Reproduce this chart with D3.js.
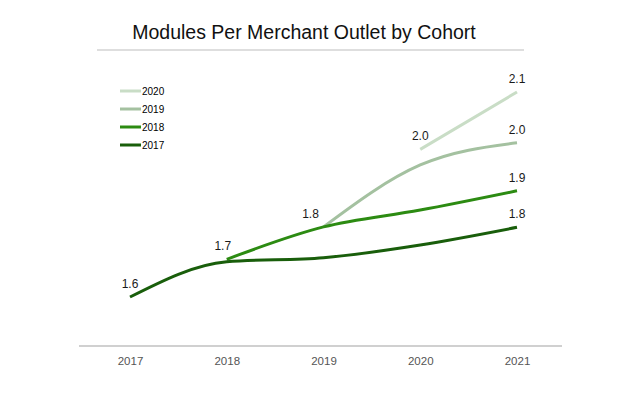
<!DOCTYPE html>
<html>
  <head>
    <meta charset="utf-8" />
    <title>Modules Per Merchant Outlet by Cohort</title>
    <style>
      body {
        margin: 0;
        background: #fff;
      }
      svg {
        display: block;
        font-family: "Liberation Sans", Arial, sans-serif;
      }
    </style>
  </head>
  <body>
    <svg id="chart"></svg>
    <script src="https://cdn.jsdelivr.net/npm/d3@7"></script>
    <script>
      // data
      var years = [2017, 2018, 2019, 2020, 2021];
      var cohorts = ["2017", "2018", "2019", "2020"];
      var cohort2017 = [1.6, 1.686, 1.696, 1.727, 1.77];
      var cohort2018 = [null, 1.692, 1.771, 1.812, 1.859];
      var cohort2019 = [null, null, 1.771, 1.922, 1.976];
      var cohort2020 = [null, null, null, 1.96, 2.1];

      var width = 640;
      var height = 393;

      var colors = {
        "2017": "#195e0b",
        "2018": "#2c8b12",
        "2019": "#a4c1a0",
        "2020": "#c9ddc6"
      };

      var svg = d3.select("#chart").attr("width", width).attr("height", height);

      var x = d3.scaleLinear().domain([2017, 2021]).range([130, 517]);
      var y = d3.scaleLinear().domain([1.6, 2.1]).range([297, 92]);

      // title + rule
      svg
        .append("text")
        .attr("x", 304)
        .attr("y", 39)
        .attr("text-anchor", "middle")
        .attr("font-size", 19.5)
        .attr("fill", "#111")
        .text("Modules Per Merchant Outlet by Cohort");

      svg
        .append("line")
        .attr("x1", 97)
        .attr("x2", 524)
        .attr("y1", 50)
        .attr("y2", 50)
        .attr("stroke", "#bdbdbd")
        .attr("stroke-width", 1);

      // x axis
      var axis = svg
        .append("g")
        .attr("transform", "translate(0,346)")
        .call(
          d3
            .axisBottom(x)
            .tickValues(years)
            .tickFormat(d3.format("d"))
            .tickSize(0)
            .tickPadding(11)
        );
      axis
        .select(".domain")
        .attr("d", "M" + (x.range()[0] - 51) + ",0H" + (x.range()[1] + 45))
        .attr("stroke", "#d0d0d0")
        .attr("stroke-width", 2);
      axis
        .selectAll("text")
        .attr("font-family", "Liberation Sans, Arial, sans-serif")
        .attr("font-size", 11.5)
        .attr("fill", "#555");

      var series = [
        { name: "2017", values: cohort2017 },
        { name: "2018", values: cohort2018 },
        { name: "2019", values: cohort2019 },
        { name: "2020", values: cohort2020 }
      ];
      series.forEach(function (s) {
        s.points = years
          .map(function (yr, i) {
            return { year: yr, value: s.values[i] };
          })
          .filter(function (d) {
            return d.value != null;
          });
      });

      var line = d3
        .line()
        .x(function (d) {
          return x(d.year);
        })
        .y(function (d) {
          return y(d.value);
        })
        .curve(d3.curveMonotoneX);

      // draw light cohorts first so the dark ones sit on top
      svg
        .append("g")
        .selectAll("path")
        .data(series.slice().reverse())
        .join("path")
        .attr("d", function (s) {
          return line(s.points);
        })
        .attr("fill", "none")
        .attr("stroke", function (s) {
          return colors[s.name];
        })
        .attr("stroke-width", 3);

      // value labels on first and last point of each cohort
      var startShift = { "2017": 0, "2018": -4, "2019": -13, "2020": 0 };
      var labels = [];
      series.forEach(function (s) {
        var first = s.points[0];
        var last = s.points[s.points.length - 1];
        labels.push({ d: first, dx: startShift[s.name] });
        labels.push({ d: last, dx: 0 });
      });

      svg
        .append("g")
        .selectAll("text")
        .data(labels)
        .join("text")
        .attr("x", function (l) {
          return x(l.d.year) + l.dx;
        })
        .attr("y", function (l) {
          return y(l.d.value) - 9;
        })
        .attr("text-anchor", "middle")
        .attr("font-size", 12)
        .attr("fill", "#1a1a1a")
        .text(function (l) {
          return l.d.value.toFixed(1);
        });

      // legend
      var legend = svg
        .append("g")
        .selectAll("g")
        .data(cohorts.slice().reverse())
        .join("g")
        .attr("transform", function (d, i) {
          return "translate(120," + (91 + i * 18) + ")";
        });
      legend
        .append("line")
        .attr("x1", 0)
        .attr("x2", 21)
        .attr("stroke", function (d) {
          return colors[d];
        })
        .attr("stroke-width", 3);
      legend
        .append("text")
        .attr("x", 22)
        .attr("y", 3.5)
        .attr("font-size", 10)
        .attr("fill", "#000")
        .text(function (d) {
          return d;
        });
    </script>
  </body>
</html>
